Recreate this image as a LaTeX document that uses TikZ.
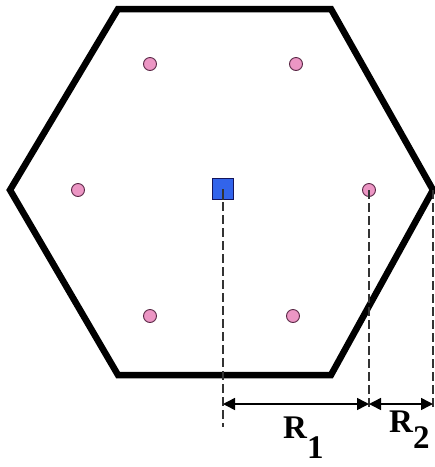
\documentclass[tikz,border=0pt]{standalone}
\usepackage{fontspec}
\setmainfont{Liberation Serif}
\usetikzlibrary{arrows.meta}
\definecolor{pinkdot}{RGB}{236,150,196}
\definecolor{dotedge}{RGB}{90,40,70}
\definecolor{sqblue}{RGB}{50,100,235}
\definecolor{sqedge}{RGB}{20,20,90}
\tikzset{
  dot/.style={circle,fill=pinkdot,draw=dotedge,line width=0.9pt,minimum size=13pt,inner sep=0pt},
  centersq/.style={rectangle,fill=sqblue,draw=sqedge,line width=1pt,minimum size=21pt,inner sep=0pt},
  guide/.style={line width=1.3pt,dash pattern=on 9pt off 4pt,black!80},
  dim/.style={line width=1.5pt,{Triangle[length=12pt,width=12pt]}-{Triangle[length=12pt,width=12pt]}},
  lab/.style={font=\bfseries\fontsize{33}{33}\selectfont,inner sep=0pt}
}
\begin{document}
\begin{tikzpicture}[x=1pt,y=-1pt]
\useasboundingbox (0,0) rectangle (435,467);
\coordinate (h1) at (118,9);
\coordinate (h2) at (331,9);
\coordinate (h3) at (433,190);
\coordinate (h4) at (331,375);
\coordinate (h5) at (118,375);
\coordinate (h6) at (10,190);
\draw[line width=6.5pt,line join=miter] (h1) -- (h2) -- (h3) -- (h4) -- (h5) -- (h6) -- cycle;
% dashed guides
\coordinate (g1b) at (223,427);
\coordinate (g2b) at (369,410);
\coordinate (g3b) at (433,410);
\node[dot] (c1) at (150,64) {};
\node[dot] (c2) at (296,64) {};
\node[dot] (c3) at (78,190) {};
\node[dot] (c4) at (369,190) {};
\node[dot] (c5) at (150,316) {};
\node[dot] (c6) at (293,316) {};
\draw[guide] (223,189) -- (g1b);
\draw[guide] (c4.center) -- (g2b);
\draw[guide] (h3) -- (g3b);
\node[centersq] (sq) at (223,189) {};
\draw[line width=1.6pt,black!80] (sq.center) -- (sq.south);
% dimension arrows
\coordinate (a1) at (223,404);
\coordinate (a2) at (369,404);
\coordinate (a3) at (433,404);
\draw[dim] (a1) -- (a2);
\draw[dim] (a2) -- (a3);
\node[lab,anchor=base west] (r1) at (283,438) {R\raisebox{-20pt}{1}};
\node[lab,anchor=base west] (r2) at (389,432) {R\raisebox{-16pt}{2}};
\end{tikzpicture}
\end{document}
